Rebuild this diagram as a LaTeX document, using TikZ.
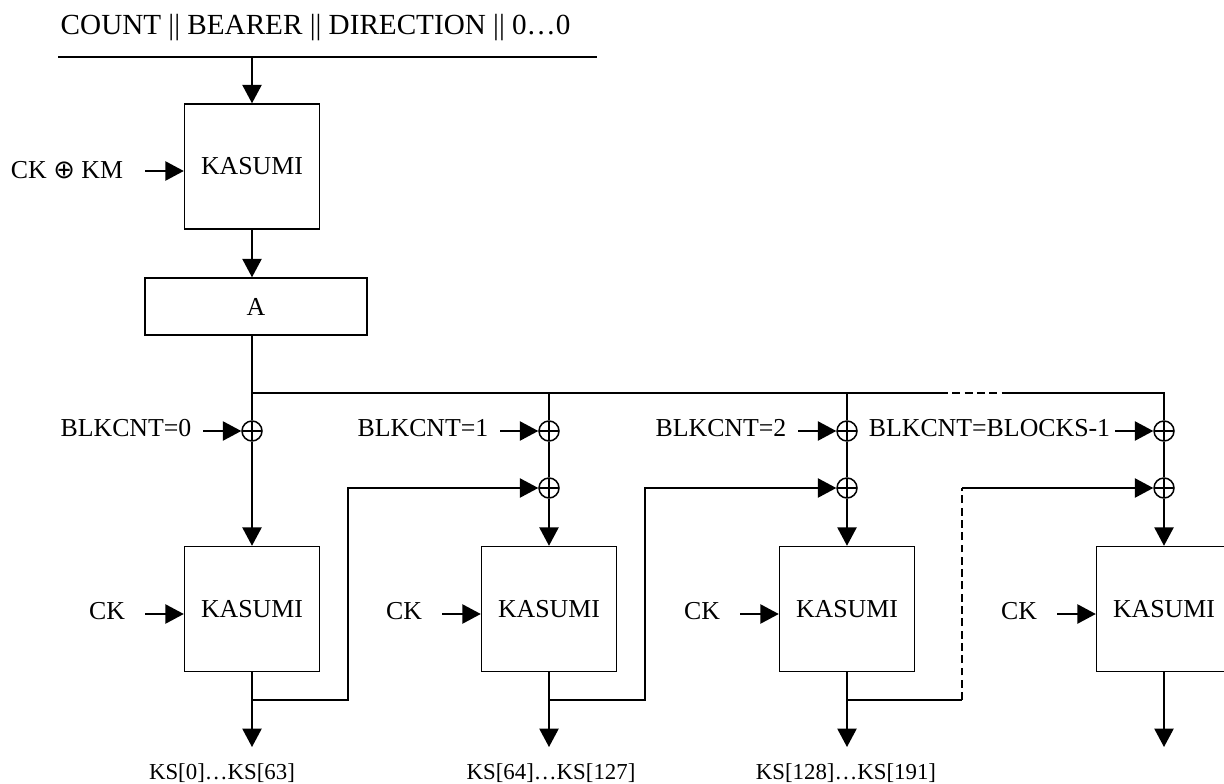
\documentclass[tikz,border=0pt]{standalone}
\usepackage{fontspec}
\setmainfont{Liberation Serif}
\newfontfamily\symfont{DejaVu Sans}
\usetikzlibrary{arrows.meta}

\begin{document}
\begin{tikzpicture}[x=0.02cm, y=-0.02cm, line width=0.85pt, line join=miter,
    >={Triangle[length=10.5pt,width=11pt]}, font=\fontsize{14.7}{17}\selectfont]
  \tikzset{box/.style={draw, minimum width=2.7cm, minimum height=2.5cm, inner sep=0pt},
    xor/.style={draw, circle, minimum size=0.4cm, inner sep=0pt,
      path picture={\draw (path picture bounding box.west) -- (path picture bounding box.east)
        (path picture bounding box.north) -- (path picture bounding box.south);}},
    lbl/.style={inner sep=0pt},
    kslbl/.style={inner sep=0pt, font=\fontsize{13}{15}\selectfont},
    gap/.style={dash pattern=on 4.5pt off 2.5pt}}
  \useasboundingbox (0,0) rectangle (1224,784);
  % key setup
  \node[lbl, anchor=base west, font=\fontsize{16.6}{20}\selectfont] (hdr) at (60,35) {COUNT || BEARER || DIRECTION || 0…0};
  \coordinate (hl) at (58,57);
  \coordinate (hr) at (597,57);
  \coordinate (hin) at (252,57);
  \draw (hl) -- (hr);
  \node[box] (km) at (252,166.5) {KASUMI};
  \draw[->] (hin) -- (km);
  \node[lbl] (ckkm) at (67,170) {CK {\symfont ⊕} KM};
  \coordinate (ckkmin) at (145,171);
  \draw[->] (ckkmin) -- (ckkmin -| km.west);
  \node[draw, minimum width=4.44cm, minimum height=1.14cm] (amod) at (256,306.5) {A};
  \draw[->] (km) -- (km |- amod.north);
  % keystream blocks
  \foreach \n/\x in {0/252,1/549,2/847,3/1164} {
    \node[xor] (xa\n) at (\x,431) {};
    \node[box] (k\n) at (\x,609) {KASUMI};
    \coordinate (o\n) at (\x,747);
    \draw[->] (k\n) -- (o\n);
    \node[lbl] (cklbl\n) at (\x-145,611) {CK};
    \coordinate (ck\n) at (\x-107,614);
    \draw[->] (ck\n) -- (ck\n -| k\n.west);
  }
  \foreach \n in {1,2,3} {
    \node[xor] (xb\n) at (xa\n |- 0,488) {};
    \draw (xa\n) -- (xb\n);
    \draw[->] (xb\n) -- (k\n);
  }
  \draw[->] (xa0) -- (k0);
  % fan-out of A
  \coordinate (t0) at (252,393);
  \coordinate (d0) at (940,393);
  \coordinate (d1) at (1008,393);
  \draw (t0 |- amod.south) -- (xa0);
  \draw (t0) -- (d0);
  \draw[gap] (d0) -- (d1);
  \draw (d1) -- (xa3 |- t0) -- (xa3);
  \draw (xa1 |- t0) -- (xa1);
  \draw (xa2 |- t0) -- (xa2);
  % block counters
  \node[lbl] (bc0) at (126,428) {BLKCNT=0};
  \node[lbl] (bc1) at (423,428) {BLKCNT=1};
  \node[lbl] (bc2) at (721,428) {BLKCNT=2};
  \node[lbl] (bc3) at (989.5,428) {BLKCNT=BLOCKS-1};
  \coordinate (bin0) at (203,431);
  \coordinate (bin1) at (500,431);
  \coordinate (bin2) at (798,431);
  \coordinate (bin3) at (1115,431);
  \draw[->] (bin0) -- (xa0);
  \draw[->] (bin1) -- (xa1);
  \draw[->] (bin2) -- (xa2);
  \draw[->] (bin3) -- (xa3);
  % feedback
  \coordinate (r0) at (348,700);
  \coordinate (r1) at (645,700);
  \coordinate (r2) at (962,700);
  \coordinate (u2) at (962,488);
  \draw[->] (k0.south |- r0) -- (r0) |- (xb1);
  \draw[->] (k1.south |- r1) -- (r1) |- (xb2);
  \draw (k2.south |- r2) -- (r2);
  \draw[gap] (r2) -- (u2);
  \draw[->] (u2) -- (xb3);
  % outputs
  \node[kslbl] (ks0) at (222,773) {KS[0]…KS[63]};
  \node[kslbl] (ks1) at (551,773) {KS[64]…KS[127]};
  \node[kslbl] (ks2) at (846,773) {KS[128]…KS[191]};
\end{tikzpicture}
\end{document}
